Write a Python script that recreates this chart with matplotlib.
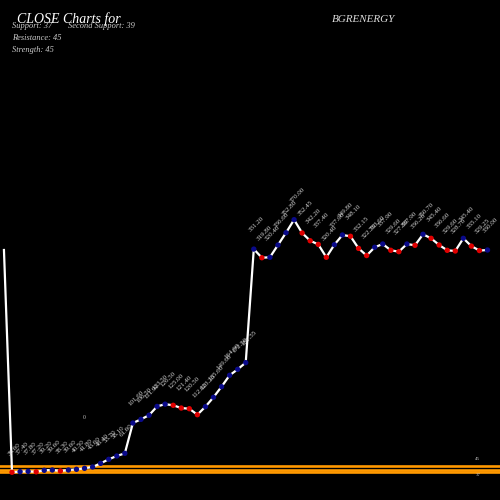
import numpy as np
from matplotlib import pyplot as plt

symbol = "BGRENERGY"
support = 37
second_support = 39
resistance = 45
strength = 45

# closing prices, oldest first (first value has no marker)
closes = [330.00,
          36.60, 37.40, 37.80, 37.20, 39.20, 39.60, 38.30, 39.60, 40.50, 41.80,
          43.60, 48.40, 53.70, 58.10, 61.60, 101.60, 106.50, 111.90, 123.50, 126.50,
          125.00, 121.40, 120.50, 112.60, 123.20, 135.60, 149.60, 164.60, 172.50, 181.35,
          331.20, 319.80, 320.40, 336.60, 352.80, 370.00, 352.45, 342.20, 337.40, 320.40,
          337.00, 349.80, 348.10, 332.15, 322.70, 333.60, 337.90, 329.60, 327.80, 337.90,
          336.20, 350.70, 345.40, 336.60, 329.60, 328.70, 345.40, 335.10, 329.25, 330.00]

closes = np.array(closes)
x = np.arange(len(closes)) - 1
serif = 'Liberation Serif'

fig = plt.figure(figsize=(5, 5), dpi=100, facecolor='black')
ax = fig.add_axes([0, 0, 1, 1])
ax.set_facecolor('black')
ax.set_xlim(-1.49, 60.55)
ax.set_ylim(0, 660)
ax.axis('off')

# support / resistance lines
for level in (support, second_support, resistance):
    ax.axhline(level, color='#ff9900', lw=1.9, zorder=1)

ax.plot(x, closes, color='white', lw=1.6, zorder=2)

# up days blue, down days red
up = closes[1:] >= closes[:-1]
colors = np.where(up, '#0a0a8a', '#e00000')
ax.scatter(x[1:], closes[1:], s=15, c=colors, zorder=3, linewidths=0)

for xi, ci in zip(x[1:], closes[1:]):
    ax.annotate(f"{ci:.2f}", (xi, ci), xytext=(-1.5, 11.5), textcoords='offset points',
                rotation=45, fontsize=5, color='#d8d8d8', family=serif,
                ha='left', va='bottom', rotation_mode='anchor')

ax.text(8.8, 107, "0", fontsize=4, color='#cccccc', family=serif)
ax.text(57.8, 54, str(resistance), fontsize=3.5, color='#cccccc', family=serif,
        ha='center', va='center')
ax.text(57.8, 33, str(support), fontsize=3.5, color='#cccccc', family=serif,
        ha='center', va='center')

fig.text(0.034, 0.962, "CLOSE Charts for", fontsize=10, color='white', family=serif,
         style='italic', va='center')
fig.text(0.664, 0.96, symbol, fontsize=8, color='#dddddd', family=serif,
         style='italic', va='center')
fig.text(0.024, 0.948, f"Support: {support}", fontsize=6, color='#cccccc', family=serif,
         style='italic', va='center')
fig.text(0.136, 0.948, f"Second Support: {second_support}", fontsize=6, color='#cccccc',
         family=serif, style='italic', va='center')
fig.text(0.024, 0.925, f"Resistance: {resistance}", fontsize=6, color='#cccccc',
         family=serif, style='italic', va='center')
fig.text(0.024, 0.901, f"Strength: {strength}", fontsize=6, color='#cccccc',
         family=serif, style='italic', va='center')

fig.savefig('out.png', dpi=100, facecolor='black')
